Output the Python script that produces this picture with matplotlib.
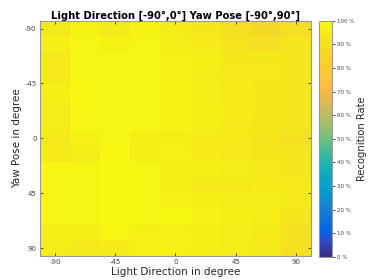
import numpy as np
import matplotlib
matplotlib.use("Agg")
import matplotlib.pyplot as plt
from matplotlib.colors import LinearSegmentedColormap

plt.rcParams["axes.unicode_minus"] = False

# MATLAB parula (subsampled)
parula_rgb = [
    (0.2081, 0.1663, 0.5292), (0.2123, 0.2138, 0.6270), (0.1959, 0.2645, 0.7279),
    (0.1253, 0.3242, 0.8303), (0.0117, 0.3875, 0.8820), (0.0165, 0.4266, 0.8786),
    (0.0498, 0.4586, 0.8641), (0.0723, 0.4887, 0.8467), (0.0793, 0.5200, 0.8312),
    (0.0641, 0.5570, 0.8240), (0.0343, 0.5966, 0.8199), (0.0239, 0.6287, 0.8038),
    (0.0228, 0.6535, 0.7768), (0.0384, 0.6743, 0.7436), (0.0843, 0.6928, 0.7062),
    (0.1453, 0.7098, 0.6646), (0.2178, 0.7250, 0.6193), (0.3022, 0.7376, 0.5712),
    (0.3953, 0.7459, 0.5244), (0.4871, 0.7491, 0.4840), (0.5709, 0.7485, 0.4494),
    (0.6473, 0.7456, 0.4188), (0.7184, 0.7411, 0.3905), (0.7858, 0.7356, 0.3633),
    (0.8507, 0.7299, 0.3360), (0.9139, 0.7258, 0.3063), (0.9739, 0.7314, 0.2666),
    (0.9938, 0.7455, 0.2403), (0.9990, 0.7653, 0.2164), (0.9955, 0.7861, 0.1967),
    (0.9880, 0.8066, 0.1794), (0.9789, 0.8271, 0.1633), (0.9697, 0.8481, 0.1475),
    (0.9626, 0.8705, 0.1309), (0.9589, 0.8949, 0.1132), (0.9598, 0.9218, 0.0948),
    (0.9661, 0.9514, 0.0755), (0.9763, 0.9831, 0.0538),
]
parula = LinearSegmentedColormap.from_list("parula", parula_rgb)

light = [-90, -67.5, -45, -22.5, 0, 22.5, 45, 67.5, 90]
yaw = [-90, -77.14, -64.29, -51.43, -38.57, -25.71, -12.86, 0,
       12.86, 25.71, 38.57, 51.43, 64.29, 77.14, 90]

# recognition rate [%], rows = yaw, cols = light direction
rate = [
    [94.0, 97.0, 94.5, 97.0, 94.5, 93.0, 89.5, 86.5, 89.0],
    [96.0, 98.0, 96.5, 98.0, 95.0, 94.5, 91.5, 89.0, 92.0],
    [94.0, 98.0, 98.0, 98.0, 96.5, 96.0, 93.0, 93.0, 92.5],
    [94.0, 98.0, 98.0, 98.0, 96.5, 95.0, 94.0, 93.5, 92.5],
    [96.0, 98.0, 98.0, 98.0, 97.5, 95.0, 94.5, 93.0, 92.5],
    [95.0, 98.0, 98.0, 98.0, 97.5, 96.0, 94.5, 93.0, 92.0],
    [95.0, 98.0, 98.0, 98.0, 97.5, 96.0, 94.0, 93.0, 92.0],
    [94.0, 96.5, 98.0, 96.0, 96.0, 94.5, 94.5, 92.5, 90.5],
    [94.5, 95.0, 98.5, 96.0, 96.5, 94.5, 94.0, 93.0, 92.0],
    [98.0, 98.0, 98.5, 98.0, 96.0, 96.0, 95.0, 94.0, 92.0],
    [98.0, 98.0, 98.5, 98.0, 96.0, 94.0, 94.0, 94.5, 94.0],
    [98.0, 98.0, 98.5, 98.0, 96.5, 96.0, 95.0, 95.0, 94.0],
    [98.0, 98.0, 98.5, 98.0, 98.5, 96.5, 96.0, 95.0, 92.5],
    [96.0, 96.0, 98.0, 96.5, 96.5, 96.0, 95.0, 94.5, 91.0],
    [95.0, 94.0, 94.5, 96.5, 96.5, 96.0, 95.0, 94.0, 90.5],
]

xticks = [-90, -45, 0, 45, 90]
yticks = [-90, -45, 0, 45, 90]
cbticks = [0, 10, 20, 30, 40, 50, 60, 70, 80, 90, 100]

fig = plt.figure(figsize=(3.68, 2.8), dpi=100)
ax = fig.add_axes([0.1087, 0.0857, 0.7363, 0.8403])
cax = fig.add_axes([0.867, 0.083, 0.036, 0.843])

mesh = ax.pcolormesh(light, yaw, np.array(rate), shading="nearest",
                     cmap=parula, vmin=0, vmax=100)
ax.invert_yaxis()
ax.set_xticks(xticks)
ax.set_yticks(yticks)
ax.tick_params(direction="in", length=2.5, width=0.6, labelsize=5,
               labelcolor="#444444", color="#333333", top=True, right=True, pad=2.5)
for s in ax.spines.values():
    s.set_color("#999999")
    s.set_linewidth(0.8)
ax.set_xlabel("Light Direction in degree", fontsize=7.5, color="#262626", labelpad=1)
ax.set_ylabel("Yaw Pose in degree", fontsize=7.5, color="#262626", labelpad=2)
ax.set_title("Light Direction [-90°,0°] Yaw Pose [-90°,90°]", fontsize=7.2,
             fontweight="bold", pad=1.5)

cb = fig.colorbar(mesh, cax=cax, ticks=cbticks)
cb.ax.set_yticklabels([f"{t} %" for t in cbticks])
cb.ax.tick_params(labelsize=4, labelcolor="#444444", length=2, width=0.5, pad=1.5)
cb.outline.set_edgecolor("#999999")
cb.outline.set_linewidth(0.8)
cb.set_label("Recognition Rate", fontsize=7.2, color="#262626", labelpad=2)

fig.savefig("out.png", dpi=100)
